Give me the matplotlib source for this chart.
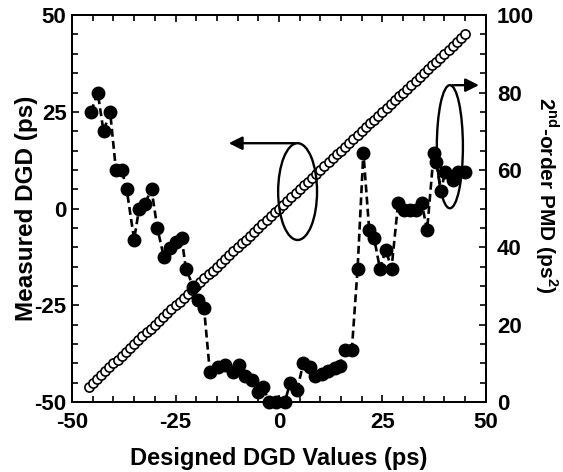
import matplotlib
matplotlib.use("Agg")
import matplotlib.pyplot as plt
from matplotlib.patches import Ellipse
from matplotlib.ticker import MultipleLocator

plt.rcParams["font.family"] = ["Liberation Sans", "DejaVu Sans"]
plt.rcParams["font.weight"] = "bold"
plt.rcParams["axes.unicode_minus"] = False
plt.rcParams["mathtext.fontset"] = "custom"
plt.rcParams["mathtext.rm"] = "Liberation Sans:bold"
plt.rcParams["mathtext.bf"] = "Liberation Sans:bold"

# open circles: measured DGD vs designed DGD (left axis)
designed_open = [-46, -45, -44, -43, -42, -41, -40, -39, -38, -37, -36, -35, -34, -33, -32, -31,
                 -30, -29, -28, -27, -26, -25, -24, -23, -22, -21, -20, -19, -18, -17, -16, -15,
                 -14, -13, -12, -11, -10, -9, -8, -7, -6, -5, -4, -3, -2, -1, 0, 1, 2, 3, 4, 5,
                 6, 7, 8, 9, 10, 11, 12, 13, 14, 15, 16, 17, 18, 19, 20, 21, 22, 23, 24, 25, 26,
                 27, 28, 29, 30, 31, 32, 33, 34, 35, 36, 37, 38, 39, 40, 41, 42, 43, 44, 45]
measured_open = list(designed_open)

# filled circles: 2nd-order PMD (right axis)
designed_pmd = [-45.4, -43.8, -42.4, -40.8, -39.4, -38.0, -36.8, -35.0, -33.8, -32.4, -30.8,
                -29.4, -27.8, -26.3, -24.9, -23.5, -22.5, -20.7, -19.6, -18.1, -16.7, -14.7,
                -13.0, -11.2, -9.6, -8.2, -6.6, -5.0, -3.8, -2.4, -0.6, 1.4, 2.7, 4.4, 5.9,
                7.5, 8.7, 10.3, 11.9, 13.5, 14.7, 15.9, 17.6, 19.0, 20.4, 21.8, 23.0, 24.4,
                25.8, 27.2, 28.8, 30.2, 31.7, 33.1, 34.5, 35.8, 37.4, 38.0, 39.2, 40.1, 42.0,
                43.3, 44.9]
pmd_values = [75, 80, 70, 75, 60, 60, 55, 42, 50, 51.3, 55, 45, 37.4, 39.7, 41.4, 42.3, 34.5,
              29.8, 26.5, 24.2, 7.8, 9.1, 9.6, 7.8, 9.6, 6.7, 5.7, 2.7, 4.0, 0, 0, 0, 5.0, 3.1,
              10.2, 9.1, 6.7, 7.4, 8.1, 8.7, 9.3, 13.4, 13.4, 34.5, 64.5, 44.6, 42.3, 34.5,
              39.4, 34.5, 51.5, 49.6, 49.6, 49.6, 51.5, 44.4, 64.4, 62.0, 54.5, 59.5, 57.5,
              59.5, 59.5]

fig = plt.figure(figsize=(5.63, 4.72), dpi=100)
ax = fig.add_axes([0.128, 0.148, 0.735, 0.820])
ax2 = ax.twinx()

ax.plot(designed_open, measured_open, "o", ms=6.6, mfc="white", mec="black", mew=1.2,
        zorder=3)
ax2.plot(designed_pmd, pmd_values, "--", color="black", lw=1.9, dashes=(3.0, 1.6), zorder=2)
ax2.plot(designed_pmd, pmd_values, "o", ms=9, color="black", zorder=3, clip_on=False)

ax.set_xlim(-50, 50)
ax.set_ylim(-50, 50)
ax2.set_ylim(0, 100)

ax.xaxis.set_major_locator(MultipleLocator(25))
ax.xaxis.set_minor_locator(MultipleLocator(5))
ax.yaxis.set_major_locator(MultipleLocator(25))
ax.yaxis.set_minor_locator(MultipleLocator(5))
ax2.yaxis.set_major_locator(MultipleLocator(20))
ax2.yaxis.set_minor_locator(MultipleLocator(5))

ax.tick_params(which="both", direction="in", top=True, right=False, width=1.2, labelsize=16)
ax.tick_params(axis="x", pad=7)
ax.tick_params(axis="y", pad=4)
ax.tick_params(which="major", length=5)
ax.tick_params(which="minor", length=4.5)
ax2.tick_params(which="both", direction="in", width=1.2, labelsize=16, pad=8)
ax2.tick_params(which="major", length=5)
ax2.tick_params(which="minor", length=4.5)
for a in (ax, ax2):
    for s in a.spines.values():
        s.set_linewidth(1.3)

ax.text(0.5, -0.145, "Designed DGD Values (ps)", transform=ax.transAxes, fontsize=17,
        fontweight="bold", ha="center", va="center")
ax.text(-0.111, 0.5, "Measured DGD (ps)", transform=ax.transAxes, fontsize=17.5,
        fontweight="bold", ha="center", va="center", rotation=90)
ax.text(1.148, 0.535, r"2$^{\mathrm{nd}}$-order PMD (ps$^{\mathrm{2}}$)",
        transform=ax.transAxes, fontsize=15, fontweight="bold", ha="center", va="center",
        rotation=270)

# annotation ellipses with arrows
ax.add_patch(Ellipse((4.5, 4.4), 9.4, 25, fill=False, lw=1.7, ec="black", zorder=4))
ax.annotate("", xy=(-12.8, 16.9), xytext=(4.5, 16.9),
            arrowprops=dict(arrowstyle="-|>", color="black", lw=1.7, mutation_scale=20))
ax.add_patch(Ellipse((41.3, 16.0), 6.3, 31.8, fill=False, lw=1.7, ec="black", zorder=4))
ax.annotate("", xy=(49.0, 31.9), xytext=(41.3, 31.9),
            arrowprops=dict(arrowstyle="-|>", color="black", lw=1.7, mutation_scale=20))

fig.savefig("out.png", dpi=100)
